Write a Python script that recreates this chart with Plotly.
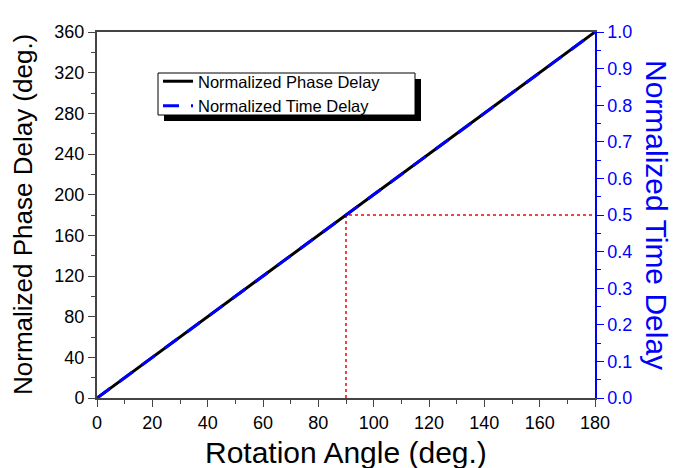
import plotly.graph_objects as go

# Rotation angle (deg.) and the two normalized delays
rotation_angle = [0, 10, 20, 30, 40, 50, 60, 70, 80, 90, 100, 110, 120, 130, 140, 150, 160, 170, 180]
phase_delay = [0, 20, 40, 60, 80, 100, 120, 140, 160, 180, 200, 220, 240, 260, 280, 300, 320, 340, 360]
time_delay = [0.0, 0.0556, 0.1111, 0.1667, 0.2222, 0.2778, 0.3333, 0.3889, 0.4444, 0.5,
              0.5556, 0.6111, 0.6667, 0.7222, 0.7778, 0.8333, 0.8889, 0.9444, 1.0]

# Guide marking the half-way point
guide_x = [90, 90, 180]
guide_y = [0, 180, 180]

FONT = "Liberation Sans, Arial, sans-serif"
BLUE = "#0000ff"
AXIS = "#444444"

fig = go.Figure()

fig.add_trace(go.Scatter(x=guide_x, y=guide_y, mode="lines",
                         line=dict(color="#ff0000", width=1.5, dash="dot"),
                         showlegend=False, hoverinfo="skip"))
fig.add_trace(go.Scatter(x=rotation_angle, y=phase_delay, mode="lines",
                         name="Normalized Phase Delay",
                         line=dict(color="black", width=3)))
fig.add_trace(go.Scatter(x=rotation_angle, y=time_delay, mode="lines",
                         name="Normalized Time Delay", yaxis="y2",
                         line=dict(color=BLUE, width=3, dash="16px,12px")))

# Legend frame with drop shadow
lx0, lx1 = (158 - 97) / 498, (415 - 97) / 498
ly1, ly0 = (398 - 73) / 366, (398 - 115) / 366
sh = 6
fig.add_shape(type="rect", xref="paper", yref="paper",
              x0=lx0 + sh / 498, x1=lx1 + sh / 498, y0=ly0 - sh / 366, y1=ly1 - sh / 366,
              fillcolor="black", line=dict(width=0))
fig.add_shape(type="rect", xref="paper", yref="paper",
              x0=lx0, x1=lx1, y0=ly0, y1=ly1,
              fillcolor="white", line=dict(color="black", width=1))

fig.update_layout(
    width=673, height=468,
    margin=dict(l=97, r=78, t=32, b=70),
    plot_bgcolor="white", paper_bgcolor="white",
    font=dict(family=FONT, size=16, color="black"),
    showlegend=True,
    legend=dict(x=lx0, y=(398 - 64) / 366, xanchor="left", yanchor="top",
                bgcolor="rgba(0,0,0,0)", borderwidth=0,
                font=dict(family=FONT, size=16.5, color="black"),
                tracegroupgap=0, itemwidth=30),
    xaxis=dict(range=[0, 180], dtick=20, tick0=0, showgrid=False, zeroline=False,
               showline=True, linecolor=AXIS, linewidth=2, mirror=True,
               ticks="outside", ticklen=7, tickwidth=1.2, tickcolor=AXIS,
               minor=dict(dtick=10, ticks="outside", ticklen=4, tickcolor=AXIS, tickwidth=1.2),
               tickfont=dict(family=FONT, size=18, color="black")),
    yaxis=dict(range=[0, 360], dtick=40, tick0=0, showgrid=False, zeroline=False,
               showline=True, linecolor=AXIS, linewidth=2,
               ticks="outside", ticklen=7, tickwidth=1.2, tickcolor=AXIS,
               minor=dict(dtick=20, ticks="outside", ticklen=4, tickcolor=AXIS, tickwidth=1.2),
               tickfont=dict(family=FONT, size=18, color="black")),
    yaxis2=dict(range=[0, 1], dtick=0.1, tick0=0, overlaying="y", side="right",
                showgrid=False, zeroline=False, tickformat=".1f",
                showline=True, linecolor=BLUE, linewidth=1.5,
                ticks="outside", ticklen=7, tickwidth=1.2, tickcolor=BLUE,
                minor=dict(dtick=0.05, ticks="outside", ticklen=4, tickcolor=BLUE, tickwidth=1.2),
                tickfont=dict(family=FONT, size=18, color=BLUE)),
)

# Axis titles
fig.add_annotation(text="Rotation Angle (deg.)", xref="paper", yref="paper",
                   x=0.5, y=0, yanchor="middle", yshift=-54, showarrow=False,
                   font=dict(family=FONT, size=30, color="black"))
fig.add_annotation(text="Normalized Phase Delay (deg.)", xref="paper", yref="paper",
                   x=0, y=0.5, xanchor="center", yanchor="middle", xshift=-74,
                   textangle=-90, showarrow=False,
                   font=dict(family=FONT, size=26, color="black"))
fig.add_annotation(text="Normalized Time Delay", xref="paper", yref="paper",
                   x=1, y=0.5, xanchor="center", yanchor="middle", xshift=62,
                   textangle=90, showarrow=False,
                   font=dict(family=FONT, size=30, color=BLUE))

fig.write_html("out.html")
